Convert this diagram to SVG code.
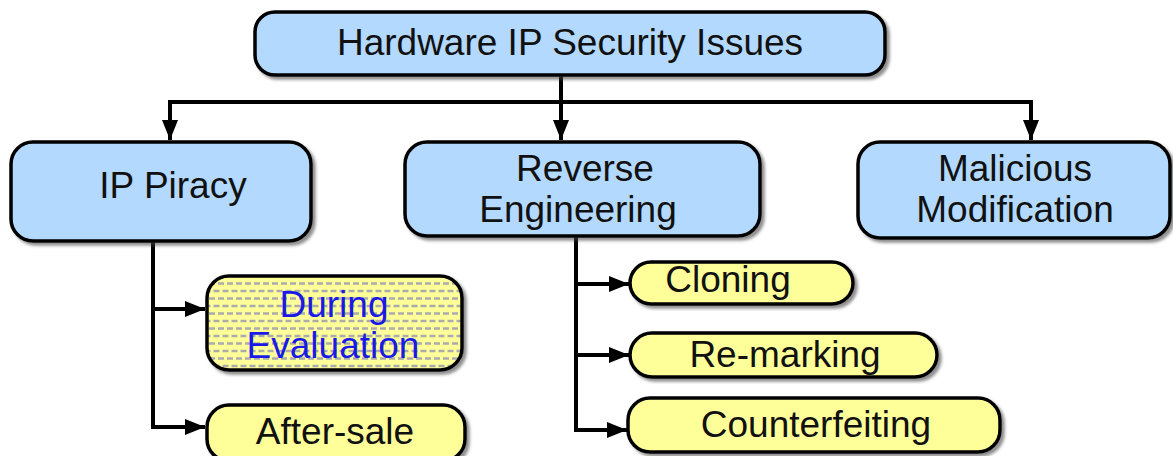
<svg xmlns="http://www.w3.org/2000/svg" width="1173" height="456" viewBox="0 0 1173 456">
  <style>
    .box { stroke: #000; stroke-width: 3.5; filter: url(#shadow); }
    .main { fill: #B3D9FF; }
    .sub { fill: #FFFF99; }
    .lbl { font-family: "Liberation Sans", Arial, sans-serif; font-size: 37px; fill: #111; text-anchor: middle; }
    .blue { fill: #1A1AE6; }
    .wire { fill: none; stroke: #000; stroke-width: 4; }
  </style>
  <defs>
    <filter id="shadow" x="-5%" y="-5%" width="115%" height="120%">
      <feDropShadow dx="3" dy="3" stdDeviation="1.5" flood-color="#444" flood-opacity="0.6"/>
    </filter>
    <marker id="arrow" markerUnits="userSpaceOnUse" markerWidth="22" markerHeight="18" refX="20" refY="9" orient="auto">
      <path d="M0,1 L20,9 L0,17 Z" fill="#000"/>
    </marker>
    <!-- staggered grey dashes over pale yellow -->
    <pattern id="dashes" patternUnits="userSpaceOnUse" width="9" height="15" x="209" y="280">
      <rect width="9" height="15" fill="#FFFF99"/>
      <line x1="0" y1="3.5" x2="6" y2="3.5" stroke="#ABABAB" stroke-width="2.5"/>
      <line x1="4.5" y1="11" x2="9" y2="11" stroke="#ABABAB" stroke-width="2.5"/>
      <line x1="0" y1="11" x2="1.5" y2="11" stroke="#ABABAB" stroke-width="2.5"/>
    </pattern>
  </defs>

  <!-- connectors -->
  <g id="connectors">
    <path class="wire" d="M561,75 V102 M170,102 H1031"/>
    <path class="wire" d="M170,100 V140" marker-end="url(#arrow)"/>
    <path class="wire" d="M561,100 V140" marker-end="url(#arrow)"/>
    <path class="wire" d="M1031,100 V140" marker-end="url(#arrow)"/>
    <path class="wire" d="M153,241 V427"/>
    <path class="wire" d="M151,309 H205" marker-end="url(#arrow)"/>
    <path class="wire" d="M151,427 H205" marker-end="url(#arrow)"/>
    <path class="wire" d="M576,236 V432"/>
    <path class="wire" d="M574,284 H629" marker-end="url(#arrow)"/>
    <path class="wire" d="M574,355 H629" marker-end="url(#arrow)"/>
    <path class="wire" d="M574,430 H627" marker-end="url(#arrow)"/>
  </g>

  <g id="root">
    <rect class="box main" x="255" y="12" width="630" height="63" rx="20"/>
    <text class="lbl" x="570" y="55">Hardware IP Security Issues</text>
  </g>

  <g id="ip-piracy">
    <rect class="box main" x="11" y="142" width="300" height="99" rx="22"/>
    <text class="lbl" x="173" y="198">IP Piracy</text>
  </g>

  <g id="reverse-engineering">
    <rect class="box main" x="405" y="142" width="355" height="94" rx="22"/>
    <text class="lbl" x="585" y="181">Reverse</text>
    <text class="lbl" x="578" y="222">Engineering</text>
  </g>

  <g id="malicious-modification">
    <rect class="box main" x="858" y="142" width="312" height="96" rx="22"/>
    <text class="lbl" x="1015" y="181">Malicious</text>
    <text class="lbl" x="1015" y="222">Modification</text>
  </g>

  <g id="during-evaluation">
    <rect class="box" fill="url(#dashes)" x="207" y="276" width="255" height="94" rx="22"/>
    <text class="lbl blue" x="334" y="317">During</text>
    <text class="lbl blue" x="333" y="358">Evaluation</text>
  </g>

  <g id="after-sale">
    <rect class="box sub" x="207" y="405" width="258" height="56" rx="22"/>
    <text class="lbl" x="335" y="444">After-sale</text>
  </g>

  <g id="cloning">
    <rect class="box sub" x="630" y="262" width="223" height="42" rx="21"/>
    <text class="lbl" x="728" y="292">Cloning</text>
  </g>

  <g id="re-marking">
    <rect class="box sub" x="630" y="333" width="307" height="44" rx="22"/>
    <text class="lbl" x="785" y="367">Re-marking</text>
  </g>

  <g id="counterfeiting">
    <rect class="box sub" x="628" y="398" width="372" height="54" rx="22"/>
    <text class="lbl" x="816" y="437">Counterfeiting</text>
  </g>
</svg>
